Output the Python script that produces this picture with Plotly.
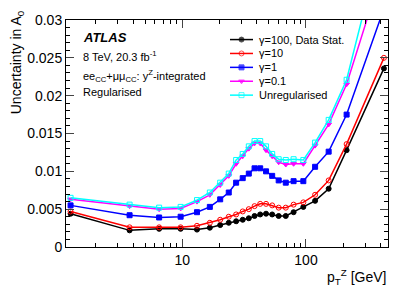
import plotly.graph_objects as go

pt = [1.25, 3.75, 6.5, 9.7, 13.15, 16.7, 20.25, 23.75, 27.25, 30.8, 34.5, 38.4,
      42.65, 47.55, 53.3, 60.15, 68.65, 79.4, 95.2, 118.5, 152.5, 213, 426.5]

g100 = [0.0044, 0.0022, 0.0024, 0.0024, 0.0023, 0.00255, 0.0029, 0.0032, 0.0034, 0.0036, 0.0038, 0.0041,
        0.0043, 0.0044, 0.0043, 0.0041, 0.0041, 0.0046, 0.0053, 0.0061, 0.0077, 0.0128, 0.0236]
g10 = [0.0047, 0.0026, 0.0026, 0.0026, 0.0028, 0.0032, 0.0036, 0.0040, 0.0043, 0.0047, 0.0050, 0.0054,
       0.0057, 0.0057, 0.0055, 0.0052, 0.0052, 0.0056, 0.0059, 0.0069, 0.0088, 0.0136, 0.0250]
g1 = [0.0055, 0.0042, 0.0039, 0.0040, 0.0046, 0.0053, 0.0063, 0.0072, 0.0085, 0.0091, 0.0097, 0.0104,
      0.0104, 0.0100, 0.0094, 0.0088, 0.0085, 0.0087, 0.0087, 0.0106, 0.0126, 0.0175, 0.0315]
g01 = [0.0063, 0.0054, 0.0050, 0.0051, 0.0060, 0.0069, 0.0082, 0.0094, 0.0110, 0.0120, 0.0130, 0.0137,
       0.0137, 0.0128, 0.0120, 0.0112, 0.0109, 0.0110, 0.0110, 0.0134, 0.0162, 0.0215, 0.0372]
unreg = [0.0065, 0.0056, 0.0052, 0.0053, 0.0062, 0.0072, 0.0085, 0.0097, 0.0115, 0.0123, 0.0133, 0.0140,
         0.0140, 0.0133, 0.0123, 0.0116, 0.0115, 0.0116, 0.0115, 0.0138, 0.0168, 0.0221, 0.0417]

labels = ["γ=100, Data Stat.", "γ=10", "γ=1", "γ=0.1", "Unregularised"]
values = [g100, g10, g1, g01, unreg]
colors = ["black", "red", "blue", "magenta", "#00ffff"]
symbols = ["circle", "circle-open", "square", "triangle-down", "square-open"]

FONT = "Liberation Sans, Arial, sans-serif"
L, R, T, B = 66, 388, 15, 247
W, H = 409, 294


def px(x):
    return (x - L) / (R - L)


def py(y):
    return (B - y) / (B - T)


fig = go.Figure()
for name, vals, col, sym in zip(labels, values, colors, symbols):
    fig.add_trace(go.Scatter(
        x=pt, y=vals, name=name, mode="lines+markers", showlegend=False,
        line=dict(color=col, width=1.5),
        marker=dict(color=col, symbol=sym, size=5, line=dict(color=col, width=1)),
    ))

# manual legend (pixel-based overlay axes)
leg_x0, leg_x1, leg_text_x = 230, 253, 257
leg_y0, leg_dy = 35, 14.2
for i, (name, col, sym) in enumerate(zip(labels, colors, symbols)):
    yy = leg_y0 + i * leg_dy
    fig.add_trace(go.Scatter(
        x=[leg_x0, (leg_x0 + leg_x1) / 2, leg_x1], y=[yy, yy, yy],
        xaxis="x2", yaxis="y2", mode="lines+markers", showlegend=False, hoverinfo="skip",
        line=dict(color=col, width=1.5),
        marker=dict(color=col, symbol=sym, size=[0, 5, 0], line=dict(color=col, width=1)),
    ))
    fig.add_annotation(text=name, x=px(leg_text_x), y=py(yy), xref="paper", yref="paper",
                       xanchor="left", yanchor="middle", showarrow=False,
                       font=dict(size=11, family=FONT, color="black"))

annos = [
    dict(text="<b><i>ATLAS</i></b>", x=px(81), y=py(33), size=13),
    dict(text="8 TeV, 20.3 fb<sup>-1</sup>", x=px(81), y=py(52), size=11),
    dict(text="ee<sub>CC</sub>+μμ<sub>CC</sub>: y<sup>Z</sup>-integrated", x=px(81), y=py(72), size=11),
    dict(text="Regularised", x=px(81), y=py(89), size=11),
]
for a in annos:
    fig.add_annotation(text=a["text"], x=a["x"], y=a["y"], xref="paper", yref="paper",
                       xanchor="left", yanchor="middle", showarrow=False,
                       font=dict(size=a["size"], family=FONT, color="black"))

fig.add_annotation(text="Uncertainty in A<sub>0</sub>", x=px(17), y=py(3), xref="paper", yref="paper",
                   xanchor="center", yanchor="top", textangle=-90, showarrow=False,
                   font=dict(size=14, family=FONT, color="black"))
fig.add_annotation(text="p<sub>T</sub><sup>Z</sup> [GeV]", x=1, y=py(278), xref="paper", yref="paper",
                   xanchor="right", yanchor="middle", showarrow=False,
                   font=dict(size=14, family=FONT, color="black"))

fig.update_layout(
    width=W, height=H,
    margin=dict(l=L, r=W - R, t=T, b=H - B),
    paper_bgcolor="white", plot_bgcolor="white",
    font=dict(family=FONT, size=14, color="black"),
    showlegend=False,
    xaxis=dict(type="log", range=[0.06, 2.663], tickvals=[10, 100], ticktext=["10", "100"],
               ticks="inside", ticklen=8, tickwidth=1, showline=True, linecolor="black", linewidth=1,
               mirror="allticks", showgrid=False, zeroline=False,
               minor=dict(ticks="inside", ticklen=4, dtick="D1", showgrid=False, tickcolor="black"),
               tickfont=dict(size=14)),
    yaxis=dict(range=[0, 0.03], dtick=0.005, ticks="inside", ticklen=8, tickwidth=1,
               showline=True, linecolor="black", linewidth=1, mirror="allticks",
               showgrid=False, zeroline=False,
               minor=dict(ticks="inside", ticklen=4, dtick=0.001, showgrid=False, tickcolor="black"),
               tickfont=dict(size=14)),
    xaxis2=dict(overlaying="x", anchor="y2", range=[L, R], visible=False, fixedrange=True),
    yaxis2=dict(overlaying="y", anchor="x2", range=[B, T], visible=False, fixedrange=True),
)

fig.write_html("out.html", config={"displayModeBar": False},
               post_script="document.body.style.margin='0px';")
